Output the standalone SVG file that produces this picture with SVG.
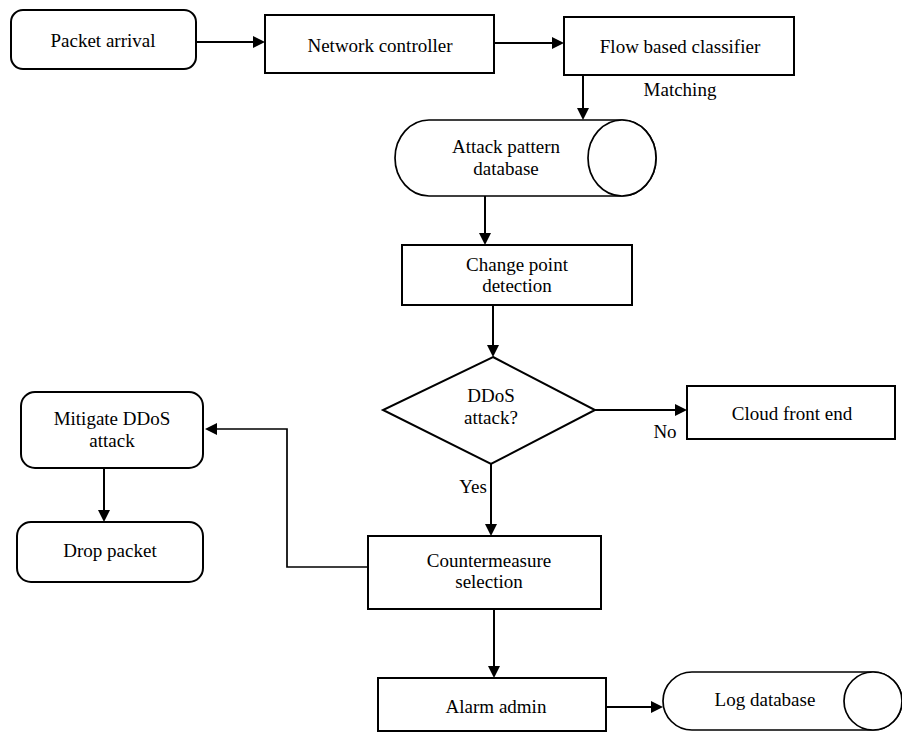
<svg xmlns="http://www.w3.org/2000/svg" width="902" height="732" viewBox="0 0 902 732">
  <style>
    .box { fill: #ffffff; stroke: #000000; stroke-width: 2; }
    .db { fill: #ffffff; stroke: #000000; stroke-width: 1.7; }
    text { font-family: Liberation Serif, Times New Roman, DejaVu Serif, serif; font-size: 19px; fill: #000000; text-anchor: middle; }
    .edge { fill: none; stroke: #000000; stroke-width: 2; marker-end: url(#arrow); }
  </style>
  <defs>
    <marker id="arrow" viewBox="0 0 12 12" refX="10" refY="6" markerWidth="12" markerHeight="12" orient="auto" markerUnits="userSpaceOnUse">
      <path d="M0,0 L12,6 L0,12 z" fill="#000000"/>
    </marker>
  </defs>
  <rect width="902" height="732" fill="#ffffff"/>

  <g id="connectors">
    <path class="edge" d="M196,42 H263"/>
    <path class="edge" d="M494,43 H562"/>
    <path class="edge" d="M583,75 V118"/>
    <path class="edge" d="M485,196 V243"/>
    <path class="edge" d="M493,305 V355"/>
    <path class="edge" d="M595,410 H685"/>
    <path class="edge" d="M491,464 V534"/>
    <path class="edge" d="M368,567 H287 V429 H207" style="stroke-width:1.7"/>
    <path class="edge" d="M104,468 V520"/>
    <path class="edge" d="M494,609 V676"/>
    <path class="edge" d="M606,707 H661"/>
    <text x="680" y="96">Matching</text>
    <text x="665" y="438">No</text>
    <text x="473" y="493">Yes</text>
  </g>

  <g id="packet-arrival">
    <rect class="box" x="11" y="10" width="185" height="59" rx="12"/>
    <text x="103" y="47">Packet arrival</text>
  </g>

  <g id="network-controller">
    <rect class="box" x="265" y="15" width="229" height="58"/>
    <text x="380" y="52">Network controller</text>
  </g>

  <g id="flow-classifier">
    <rect class="box" x="564" y="17" width="230" height="58"/>
    <text x="680" y="53">Flow based classifier</text>
  </g>

  <g id="attack-pattern-db">
    <path class="db" d="M429,120 H622 A34,38 0 0 1 622,196 H429 A34,38 0 0 1 429,120 Z"/>
    <ellipse class="db" cx="622" cy="158" rx="34" ry="38"/>
    <text x="506" y="153">Attack pattern</text>
    <text x="506" y="175">database</text>
  </g>

  <g id="change-point">
    <rect class="box" x="402" y="245" width="230" height="60"/>
    <text x="517" y="271">Change point</text>
    <text x="517" y="292">detection</text>
  </g>

  <g id="ddos-decision">
    <polygon class="box" points="493,357 595,410 491,464 383,410"/>
    <text x="491" y="402">DDoS</text>
    <text x="491" y="424">attack?</text>
  </g>

  <g id="cloud-front-end">
    <rect class="box" x="687" y="386" width="208" height="53"/>
    <text x="792" y="420">Cloud front end</text>
  </g>

  <g id="mitigate">
    <rect class="box" x="21" y="392" width="182" height="76" rx="14"/>
    <text x="112" y="425">Mitigate DDoS</text>
    <text x="112" y="447">attack</text>
  </g>

  <g id="drop-packet">
    <rect class="box" x="17" y="522" width="186" height="60" rx="14"/>
    <text x="110" y="557">Drop packet</text>
  </g>

  <g id="countermeasure">
    <rect class="box" x="368" y="536" width="233" height="73"/>
    <text x="489" y="567">Countermeasure</text>
    <text x="489" y="588">selection</text>
  </g>

  <g id="alarm-admin">
    <rect class="box" x="378" y="678" width="228" height="53"/>
    <text x="496" y="713">Alarm admin</text>
  </g>

  <g id="log-db">
    <path class="db" d="M692,672 H873 A29,29 0 0 1 873,730 H692 A29,29 0 0 1 692,672 Z"/>
    <ellipse class="db" cx="873" cy="701" rx="29" ry="29"/>
    <text x="765" y="706">Log database</text>
  </g>
</svg>
